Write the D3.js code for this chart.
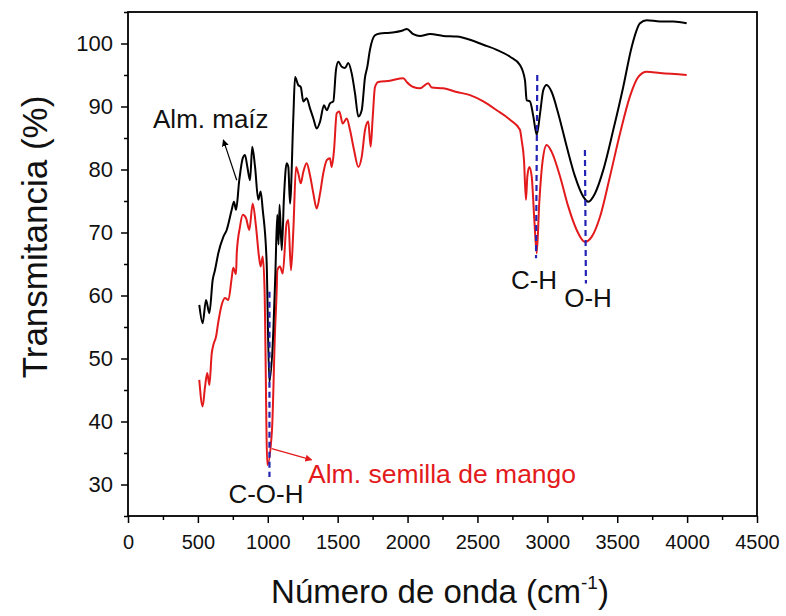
<!DOCTYPE html>
<html>
<head>
<meta charset="utf-8">
<script src="https://cdn.jsdelivr.net/npm/d3@7"></script>
<style>
  body { margin: 0; background: #fff; }
  svg { display: block; font-family: "Liberation Sans", Arial, sans-serif; }
</style>
</head>
<body>
<svg id="chart"></svg>
<script>
// -----------------------------
// DATA
// -----------------------------
const maizWave = [510, 534, 558, 582, 606, 622, 646, 682, 706, 742, 758, 773, 796, 821, 837, 854, 873, 889, 909, 932, 949, 964, 992, 1011,
  1040, 1055, 1068, 1077, 1084, 1100, 1116, 1135, 1147, 1159, 1183, 1195, 1218, 1236, 1254, 1278, 1302, 1326, 1350, 1374, 1402, 1422,
  1445, 1469, 1488, 1505, 1529, 1552, 1576, 1600, 1624, 1648, 1672, 1696, 1712, 1731, 1767, 1803, 1874, 1970, 1994, 2041, 2089, 2161,
  2256, 2352, 2447, 2542, 2638, 2733, 2804, 2840, 2852, 2876, 2900, 2924, 2948, 2971, 2995, 3031, 3078, 3139, 3198, 3257, 3293, 3341,
  3400, 3472, 3543, 3604, 3663, 3711, 3806, 3901, 3997];
const maizT = [58.5, 55.6, 59.3, 57.2, 62.5, 64.0, 66.7, 69.3, 70.4, 73.6, 74.9, 73.6, 78.3, 81.8, 82.3, 80.4, 78.3, 83.6, 80.4, 75.2, 76.5, 73.6, 65.2, 46.3,
  54.5, 64.0, 72.8, 68.1, 74.4, 67.2, 75.7, 81.0, 80.4, 74.6, 88.4, 94.7, 93.4, 93.1, 90.8, 91.3, 89.7, 88.1, 86.5, 87.6, 90.2, 89.4,
  90.5, 90.8, 95.8, 97.1, 96.3, 96.1, 96.9, 95.3, 92.1, 88.4, 89.4, 94.7, 96.3, 99.0, 101.3, 101.6, 101.7, 102.1, 102.3, 101.5, 101.2, 101.5,
  101.2, 101.1, 100.6, 99.8, 99.0, 97.9, 96.6, 94.2, 91.0, 90.8, 88.4, 85.5, 88.9, 92.6, 93.4, 92.3, 88.9, 83.6, 78.9, 75.7, 74.9, 76.2,
  79.9, 86.3, 93.1, 99.5, 103.2, 103.7, 103.5, 103.5, 103.2];

const mangoWave = [510, 534, 551, 567, 582, 599, 610, 630, 646, 670, 694, 718, 742, 753, 773, 778, 801, 821, 844, 868, 892, 916, 937, 949, 964, 977, 997,
  1030, 1052, 1064, 1068, 1087, 1107, 1135, 1147, 1166, 1183, 1202, 1218, 1236, 1254, 1278, 1302, 1326, 1350, 1374, 1397, 1422, 1445, 1457,
  1474, 1493, 1512, 1536, 1565, 1588, 1617, 1648, 1672, 1696, 1719, 1736, 1751, 1767, 1791, 1874, 1970, 1994, 2041, 2089, 2148, 2173, 2256,
  2352, 2447, 2542, 2638, 2733, 2804, 2816, 2833, 2847, 2857, 2871, 2888, 2907, 2924, 2942, 2967, 2995, 3031, 3091, 3150, 3210, 3269, 3317,
  3377, 3448, 3520, 3591, 3651, 3711, 3806, 3997];
const mangoT = [46.6, 42.4, 45.5, 47.7, 45.8, 50.8, 52.1, 53.5, 55.8, 58.5, 59.6, 59.3, 62.8, 64.4, 63.4, 66.7, 70.9, 72.8, 72.3, 70.4, 74.6, 70.9, 66.2, 64.6, 66.2, 60.9, 33.1,
  38.6, 54.5, 60.9, 64.0, 64.6, 63.5, 71.5, 72.0, 64.0, 70.4, 80.4, 79.4, 77.8, 79.6, 81.0, 79.1, 76.2, 73.8, 76.2, 79.4, 81.5, 81.8, 80.4,
  83.1, 88.9, 89.2, 87.3, 88.1, 86.3, 83.1, 80.4, 82.0, 86.3, 87.6, 83.6, 88.4, 93.1, 93.9, 94.1, 94.5, 93.9, 93.1, 92.9, 93.7, 93.0, 92.9,
  92.3, 91.8, 90.8, 89.4, 87.9, 86.3, 84.7, 81.5, 75.2, 78.9, 80.4, 78.9, 72.0, 66.7, 74.6, 81.5, 83.9, 82.8, 78.9, 74.1, 70.4, 68.5, 69.3,
  72.5, 78.9, 85.7, 91.6, 94.7, 95.5, 95.3, 95.0];

const xTicks = [0, 500, 1000, 1500, 2000, 2500, 3000, 3500, 4000, 4500];
const yTicks = [30, 40, 50, 60, 70, 80, 90, 100];

// band markers (wavenumber, top, bottom) in data units
const bandNames = ["C-O-H", "C-H", "O-H"];
const bandX1 = [1012, 2928, 3269];
const bandX2 = [1012, 2919, 3276];
const bandTop = [60.6, 95.0, 83.1];
const bandBottom = [31.2, 65.9, 61.9];
const bandLabelX = [987, 2905, 3291];
const bandLabelY = [27.1, 61.1, 58.2];

// -----------------------------
// LAYOUT
// -----------------------------
const width = 786, height = 616;
const margin = { top: 12, right: 29, bottom: 100, left: 128 };
const innerW = width - margin.left - margin.right;
const innerH = height - margin.top - margin.bottom;

const RED = "#e31a1c";
const BLUE = "#2323b5";

const svg = d3.select("#chart").attr("width", width).attr("height", height);

const defs = svg.append("defs");
[["arrowBlack", "#000"], ["arrowRed", RED]].forEach(([id, c]) => {
  defs.append("marker")
    .attr("id", id)
    .attr("viewBox", "0 0 10 10")
    .attr("refX", 9).attr("refY", 5)
    .attr("markerWidth", 7).attr("markerHeight", 7)
    .attr("markerUnits", "userSpaceOnUse")
    .attr("orient", "auto")
    .append("path")
    .attr("d", "M0,0 L10,5 L0,10 z")
    .attr("fill", c);
});

const g = svg.append("g").attr("transform", `translate(${margin.left},${margin.top})`);

const x = d3.scaleLinear().domain([0, 4500]).range([0, innerW]);
const y = d3.scaleLinear().domain([25, 105]).range([innerH, 0]);

// -----------------------------
// AXES
// -----------------------------
const xMinor = d3.range(250, 4500, 500);
const yMinor = d3.range(25, 106, 10);

g.append("g")
  .attr("transform", `translate(0,${innerH})`)
  .call(d3.axisBottom(x).tickValues(xMinor).tickSize(4).tickFormat(""))
  .call(a => a.select(".domain").remove());

g.append("g")
  .attr("transform", `translate(0,${innerH})`)
  .call(d3.axisBottom(x).tickValues(xTicks).tickSize(7).tickPadding(12).tickFormat(d3.format("d")))
  .call(a => a.select(".domain").remove())
  .call(a => a.selectAll("text").attr("font-size", 20).attr("fill", "#111"));

g.append("g")
  .call(d3.axisLeft(y).tickValues(yMinor).tickSize(4).tickFormat(""))
  .call(a => a.select(".domain").remove());

g.append("g")
  .call(d3.axisLeft(y).tickValues(yTicks).tickSize(7).tickPadding(8))
  .call(a => a.select(".domain").remove())
  .call(a => a.selectAll("text").attr("font-size", 22).attr("fill", "#111"));

g.selectAll(".tick line").attr("stroke", "#000").attr("stroke-width", 1.5);

g.append("rect")
  .attr("width", innerW).attr("height", innerH)
  .attr("fill", "none").attr("stroke", "#000").attr("stroke-width", 1.8);

// -----------------------------
// TITLES
// -----------------------------
svg.append("text")
  .attr("transform", "translate(47,237) rotate(-90)")
  .attr("text-anchor", "middle")
  .attr("font-size", 35)
  .attr("fill", "#111")
  .text("Transmitancia (%)");

const xt = svg.append("text")
  .attr("x", 440).attr("y", 603)
  .attr("text-anchor", "middle")
  .attr("font-size", 33)
  .attr("fill", "#111");
xt.append("tspan").text("Número de onda (cm");
xt.append("tspan").attr("font-size", 19).attr("dy", -14).text("-1");
xt.append("tspan").attr("dy", 14).text(")");

// -----------------------------
// SPECTRA
// -----------------------------
const line = d3.line()
  .x(d => x(d[0]))
  .y(d => y(d[1]))
  .curve(d3.curveMonotoneX);

g.append("path")
  .datum(mangoWave.map((w, i) => [w, mangoT[i]]))
  .attr("d", line)
  .attr("fill", "none").attr("stroke", RED).attr("stroke-width", 2);

g.append("path")
  .datum(maizWave.map((w, i) => [w, maizT[i]]))
  .attr("d", line)
  .attr("fill", "none").attr("stroke", "#000").attr("stroke-width", 2);

// -----------------------------
// BAND MARKERS
// -----------------------------
bandNames.forEach((name, i) => {
  g.append("line")
    .attr("x1", x(bandX1[i])).attr("y1", y(bandTop[i]))
    .attr("x2", x(bandX2[i])).attr("y2", y(bandBottom[i]))
    .attr("stroke", BLUE).attr("stroke-width", 2.2)
    .attr("stroke-dasharray", "6,4");

  g.append("text")
    .attr("x", x(bandLabelX[i])).attr("y", y(bandLabelY[i]))
    .attr("text-anchor", "middle")
    .attr("font-size", 26)
    .attr("fill", "#111")
    .text(name);
});

// -----------------------------
// SERIES LABELS
// -----------------------------
g.append("text")
  .attr("x", x(179)).attr("y", y(86.6))
  .attr("font-size", 26).attr("fill", "#111")
  .text("Alm. maíz");

g.append("line")
  .attr("x1", x(778)).attr("y1", y(78.3))
  .attr("x2", x(682)).attr("y2", y(84.7))
  .attr("stroke", "#000").attr("stroke-width", 1.2)
  .attr("marker-end", "url(#arrowBlack)");

g.append("line")
  .attr("x1", x(1028)).attr("y1", y(35.7))
  .attr("x2", x(1314)).attr("y2", y(33.9))
  .attr("stroke", RED).attr("stroke-width", 1.2)
  .attr("marker-end", "url(#arrowRed)");

g.append("text")
  .attr("x", x(1288)).attr("y", y(30.2))
  .attr("font-size", 26.5).attr("fill", RED)
  .text("Alm. semilla de mango");
</script>
</body>
</html>
